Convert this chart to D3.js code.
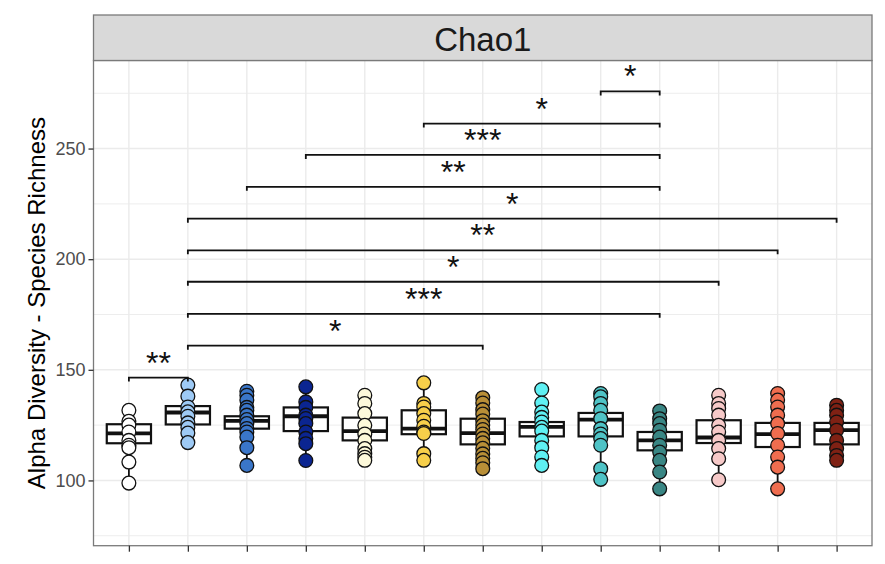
<html>

<head>
    <script src="https://d3js.org/d3.v7.min.js" charset="utf-8"></script>
    <style>
        body { margin: 0; background: #fff; }
        text { font-family: "Liberation Sans", Arial, sans-serif; }
    </style>
</head>

<body>
    <script type="text/javascript">
        var width = 885;
        var height = 564;

        // panel area (strip sits on top of it)
        var margin = { left: 93.5, right: 13, top: 60.5, bottom: 18.3 };
        var stripTop = 15;

        // ---- data ----
        var groups = ["1", "2", "3", "4", "5", "6", "7", "8", "9", "10", "11", "12", "13"];
        var colors = ["#FFFFFF", "#9ECAF5", "#3A76C9", "#0B2591", "#FDF9DA", "#F7CF4A", "#B98F37",
            "#5FF0F3", "#4FC3C6", "#398684", "#F6C9C8", "#EF6D4F", "#7F2114"];

        var q1 = [116.8, 125.3, 123.4, 122.3, 118.1, 120.9, 116.3, 119.9, 119.9, 113.6, 116.9, 115.1, 116.3];
        var med = [121.3, 130.7, 126.9, 129.0, 122.3, 123.4, 121.4, 124.2, 127.5, 118.1, 119.4, 120.9, 122.7];
        var q3 = [125.4, 133.6, 129.0, 133.0, 128.4, 131.7, 127.9, 126.4, 130.5, 121.9, 127.2, 126.0, 126.0];
        var whiskLo = [98.8, 117.1, 106.8, 109.0, 109.1, 109.1, 105.3, 106.8, 100.5, 96.2, 100.3, 96.2, 109.1];
        var whiskHi = [131.7, 143.1, 140.3, 142.3, 138.5, 144.1, 137.4, 141.1, 139.3, 131.4, 138.5, 139.3, 134.0];

        var points = [
            [131.7, 126.7, 125, 121.9, 118.1, 115.9, 114.8, 108.3, 98.8],
            [143.1, 138.1, 133.2, 131, 129, 126, 124, 121.4, 117.1],
            [140.3, 138.5, 136.3, 133, 131.7, 129.5, 127.5, 125.7, 123.5, 121.9, 119.6, 114.8, 106.8],
            [142.3, 135.5, 133, 129.5, 128, 125.7, 121.9, 119, 116.6, 109],
            [138.5, 134.8, 130.2, 124.9, 121, 118.1, 114.4, 112.1, 110.5, 109.1],
            [144.1, 134.8, 133.2, 130.2, 127.2, 124.5, 121.9, 121.2, 112.1, 109.1],
            [137.4, 135, 132, 130, 127, 125, 123, 121, 119, 117, 114.5, 112, 110, 108, 105.3],
            [141.1, 135, 130.9, 128.5, 126.4, 124, 122.3, 118.1, 114.8, 110.6, 106.8],
            [139.3, 137.8, 134.8, 131.7, 127.9, 123.4, 121, 118.9, 115.9, 105.3, 100.5],
            [131.4, 127.9, 125.7, 122.7, 119.6, 115.9, 112.8, 109.1, 103.8, 96.2],
            [138.5, 134.8, 132.5, 129.5, 124.9, 121.9, 118.1, 114.4, 109.8, 100.3],
            [139.3, 136.3, 133.2, 129.5, 125.7, 121.2, 115.9, 110.6, 106, 96.2],
            [134, 131.7, 129.5, 126.4, 122.7, 118.1, 114.4, 111.3, 109.1]
        ];

        // significance brackets (group names, height, label)
        var bracketFrom = ["9", "6", "4", "3", "2", "2", "2", "2", "2", "1"];
        var bracketTo = ["10", "10", "10", "10", "13", "12", "11", "10", "7", "2"];
        var bracketY = [275.8, 261.3, 247.1, 232.7, 218.3, 204.0, 189.8, 175.3, 160.9, 146.5];
        var bracketLabel = ["*", "*", "***", "**", "*", "**", "*", "***", "*", "**"];

        var yTicks = [100, 150, 200, 250];
        var yMinor = [75, 125, 175, 225, 275];
        var yDomain = [70.5, 289.8];

        const svg = d3.select("body").append("svg")
            .attr("width", width)
            .attr("height", height);

        var x = d3.scalePoint(groups, [margin.left, width - margin.right]).padding(0.6);
        var y = d3.scaleLinear(yDomain, [height - margin.bottom, margin.top]);
        var step = x.step();
        var boxW = step * 0.75;

        // grid
        var grid = svg.append("g").attr("class", "grid");
        grid.selectAll("line.minor")
            .data(yMinor)
            .join("line")
            .attr("x1", margin.left).attr("x2", width - margin.right)
            .attr("y1", d => y(d)).attr("y2", d => y(d))
            .attr("stroke", "#EBEBEB").attr("stroke-width", 0.9);
        grid.selectAll("line.major")
            .data(yTicks)
            .join("line")
            .attr("x1", margin.left).attr("x2", width - margin.right)
            .attr("y1", d => y(d)).attr("y2", d => y(d))
            .attr("stroke", "#EBEBEB").attr("stroke-width", 1.4);
        grid.selectAll("line.xmajor")
            .data(groups)
            .join("line")
            .attr("x1", d => x(d)).attr("x2", d => x(d))
            .attr("y1", margin.top).attr("y2", height - margin.bottom)
            .attr("stroke", "#EBEBEB").attr("stroke-width", 1.4);

        // boxplots
        var boxes = svg.append("g").attr("class", "boxes")
            .selectAll("g")
            .data(groups)
            .join("g");

        boxes.append("line")
            .attr("x1", d => x(d)).attr("x2", d => x(d))
            .attr("y1", (d, i) => y(q3[i])).attr("y2", (d, i) => y(whiskHi[i]))
            .attr("stroke", "#111").attr("stroke-width", 1.8);
        boxes.append("line")
            .attr("x1", d => x(d)).attr("x2", d => x(d))
            .attr("y1", (d, i) => y(q1[i])).attr("y2", (d, i) => y(whiskLo[i]))
            .attr("stroke", "#111").attr("stroke-width", 1.8);
        boxes.append("rect")
            .attr("x", d => x(d) - boxW / 2)
            .attr("width", boxW)
            .attr("y", (d, i) => y(q3[i]))
            .attr("height", (d, i) => y(q1[i]) - y(q3[i]))
            .attr("fill", "white")
            .attr("stroke", "#111").attr("stroke-width", 2.2);
        boxes.append("line")
            .attr("x1", d => x(d) - boxW / 2).attr("x2", d => x(d) + boxW / 2)
            .attr("y1", (d, i) => y(med[i])).attr("y2", (d, i) => y(med[i]))
            .attr("stroke", "#111").attr("stroke-width", 3.8);

        // points on top
        var pts = [];
        points.forEach((arr, i) => arr.forEach(v => pts.push({ g: groups[i], i: i, v: v })));
        svg.append("g").attr("class", "points")
            .selectAll("circle")
            .data(pts)
            .join("circle")
            .attr("cx", d => x(d.g))
            .attr("cy", d => y(d.v))
            .attr("r", 6.9)
            .attr("fill", d => colors[d.i])
            .attr("stroke", "#111")
            .attr("stroke-width", 1.3);

        // brackets
        var tip = 4;
        var br = svg.append("g").attr("class", "brackets")
            .selectAll("g")
            .data(bracketY)
            .join("g");
        br.append("path")
            .attr("d", (d, i) => {
                var x1 = x(bracketFrom[i]), x2 = x(bracketTo[i]), yy = y(d);
                return `M${x1},${yy + tip}L${x1},${yy}L${x2},${yy}L${x2},${yy + tip}`;
            })
            .attr("fill", "none")
            .attr("stroke", "#111")
            .attr("stroke-width", 1.8);
        br.append("text")
            .attr("x", (d, i) => (x(bracketFrom[i]) + x(bracketTo[i])) / 2)
            .attr("y", d => y(d) - 4)
            .attr("text-anchor", "middle")
            .style("font-size", "32px")
            .attr("fill", "#111")
            .text((d, i) => bracketLabel[i]);

        // panel border
        svg.append("rect")
            .attr("x", margin.left).attr("y", margin.top)
            .attr("width", width - margin.left - margin.right)
            .attr("height", height - margin.top - margin.bottom)
            .attr("fill", "none")
            .attr("stroke", "#7a7a7a").attr("stroke-width", 1.3);

        // strip
        svg.append("rect")
            .attr("x", margin.left).attr("y", stripTop)
            .attr("width", width - margin.left - margin.right)
            .attr("height", margin.top - stripTop)
            .attr("fill", "#D9D9D9")
            .attr("stroke", "#7a7a7a").attr("stroke-width", 1.3);
        svg.append("text")
            .attr("x", (margin.left + width - margin.right) / 2)
            .attr("y", 50.7)
            .attr("text-anchor", "middle")
            .style("font-size", "33px")
            .attr("fill", "#1A1A1A")
            .text("Chao1");

        // axes
        var yAxis = d3.axisLeft(y).tickValues(yTicks).tickSize(5).tickPadding(3);
        var gy = svg.append("g")
            .attr("transform", `translate(${margin.left}, 0)`)
            .call(yAxis);
        gy.select(".domain").remove();
        gy.selectAll(".tick line").attr("stroke", "#333").attr("stroke-width", 1.3);
        gy.selectAll(".tick text")
            .style("font-size", "18px")
            .style("font-family", "Liberation Sans, Arial, sans-serif")
            .attr("fill", "#4D4D4D");

        var xAxis = d3.axisBottom(x).tickSize(6).tickFormat("");
        var gx = svg.append("g")
            .attr("transform", `translate(0, ${height - margin.bottom})`)
            .call(xAxis);
        gx.select(".domain").remove();
        gx.selectAll(".tick line").attr("stroke", "#333").attr("stroke-width", 1.3);

        svg.append("text")
            .attr("transform", `translate(45, ${(margin.top + height - margin.bottom) / 2}) rotate(-90)`)
            .attr("text-anchor", "middle")
            .style("font-size", "24px")
            .attr("fill", "black")
            .text("Alpha Diversity - Species Richness");
    </script>
</body>

</html>
